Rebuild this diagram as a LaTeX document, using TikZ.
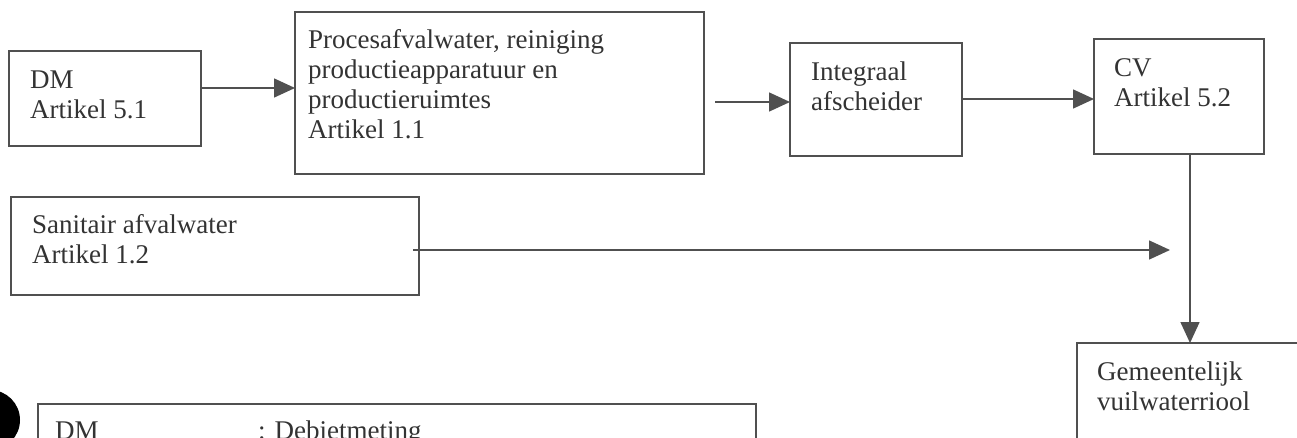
\documentclass[tikz,border=0pt]{standalone}
\usepackage{fontspec}
\setmainfont{Liberation Serif}
\usetikzlibrary{arrows.meta}
\definecolor{linec}{HTML}{505050}
\definecolor{txtc}{HTML}{333333}
\begin{document}
\begin{tikzpicture}[x=1pt,y=-1pt,
  box/.style={draw=linec, line width=1.5pt, inner sep=0pt, outer sep=0pt},
  lbl/.style={anchor=north west, inner sep=0pt, align=left, text=txtc,
    font=\fontsize{27}{30}\selectfont},
  arr/.style={draw=linec, line width=1.5pt, -{Triangle[length=21pt,width=19pt]}}]
\useasboundingbox (0,0) rectangle (1297,438);
\clip (0,0) rectangle (1297,438);
\fill[white] (0,0) rectangle (1297,438);

% boxes
\node[box, minimum width=192pt, minimum height=95pt] (dm) at (105,98.5) {};
\node[box, minimum width=409pt, minimum height=162pt] (proc) at (499.5,93) {};
\node[box, minimum width=172pt, minimum height=113pt] (integ) at (876,99.5) {};
\node[box, minimum width=170pt, minimum height=115pt] (cv) at (1179,96.5) {};
\node[box, minimum width=408pt, minimum height=98pt] (san) at (215,246) {};
\node[box, minimum width=253pt, minimum height=127pt] (gem) at (1203.5,406.5) {};
\node[box, minimum width=718pt, minimum height=76pt] (leg) at (397,442) {};

% texts
\node[lbl] (tdm) at (30,67) {\strut DM\\Artikel 5.1};
\node[lbl] (tproc) at (308,27) {\strut Procesafvalwater, reiniging\\productieapparatuur en\\productieruimtes\\Artikel 1.1};
\node[lbl] (tinteg) at (811,59) {\strut Integraal\\afscheider};
\node[lbl] (tcv) at (1114,55) {\strut CV\\Artikel 5.2};
\node[lbl] (tsan) at (32,212) {\strut Sanitair afvalwater\\Artikel 1.2};
\node[lbl] (tgem) at (1097,359) {\strut Gemeentelijk\\vuilwaterriool};
\node[lbl] (tleg1) at (55,418) {\strut DM};
\node[lbl] (tleg2) at (258,418) {\strut : Debietmeting};

% punch hole
\fill[black] (-10,420) circle (30);

% connectors
\coordinate (y1) at (0,88);
\coordinate (s2) at (715,102);
\coordinate (y3) at (0,99);
\coordinate (s4) at (413,250);
\coordinate (e4) at (1170,250);
\coordinate (vx) at (1190,0);

\draw[arr] (dm.east |- y1) -- (proc.west |- y1);
\draw[arr] (s2) -- (integ.west |- s2);
\draw[arr] (integ.east |- y3) -- (cv.west |- y3);
\draw[arr] (s4) -- (e4);
\draw[arr] (cv.south -| vx) -- (gem.north -| vx);
\end{tikzpicture}
\end{document}
